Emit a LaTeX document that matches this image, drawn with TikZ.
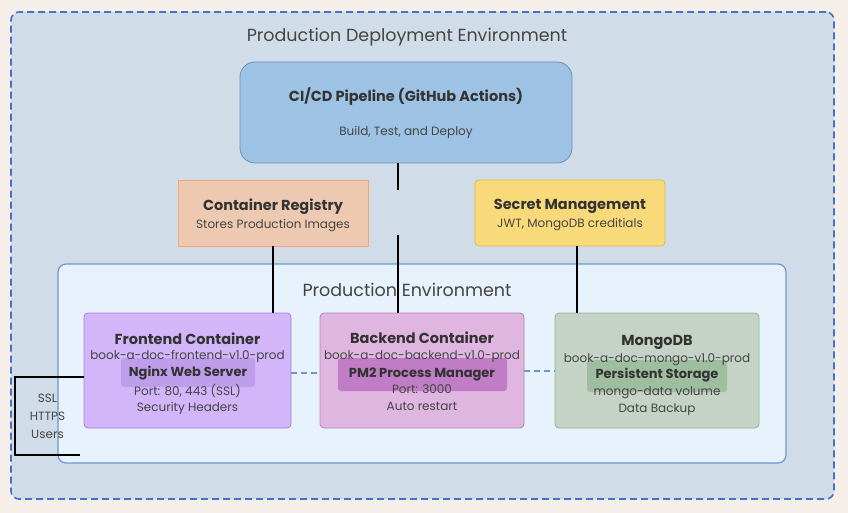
\documentclass[tikz,border=0pt]{standalone}
\usepackage{fontspec}
\setmainfont{Poppins}
\usetikzlibrary{positioning}
\definecolor{canvas}{HTML}{F5EEE9}
\definecolor{outerfill}{HTML}{D0DDE8}
\definecolor{outerline}{HTML}{4472C4}
\definecolor{prodfill}{HTML}{E8F2FC}
\definecolor{prodline}{HTML}{7096D0}
\definecolor{cifill}{HTML}{9DC2E3}
\definecolor{ciline}{HTML}{6B8FB5}
\definecolor{regfill}{HTML}{EEC9B1}
\definecolor{regline}{HTML}{F4A37A}
\definecolor{secfill}{HTML}{F9DA7A}
\definecolor{secline}{HTML}{E0B94A}
\definecolor{frontfill}{HTML}{D2B6F9}
\definecolor{frontline}{HTML}{A580DA}
\definecolor{frontinner}{HTML}{BE9DEB}
\definecolor{backfill}{HTML}{DEB6E0}
\definecolor{backline}{HTML}{B582B9}
\definecolor{backinner}{HTML}{C07CC5}
\definecolor{mongofill}{HTML}{C5D2C6}
\definecolor{mongoline}{HTML}{88BA8B}
\definecolor{mongoinner}{HTML}{9EBE9F}
\definecolor{ink}{HTML}{333333}
\definecolor{softink}{HTML}{444444}
\tikzset{
  card/.style={draw, line width=0.8pt, inner sep=0pt, rounded corners=4pt},
  hilite/.style={inner sep=0pt, rounded corners=3pt},
  zonetitle/.style={text=softink, font=\fontsize{17.5}{21}\selectfont, inner sep=0pt, yshift=-1pt},
  cardtitle/.style={text=ink, font=\fontsize{14.5}{17}\selectfont\bfseries, inner sep=0pt, yshift=-1pt},
  cardtext/.style={text=softink, font=\fontsize{12}{14}\selectfont, inner sep=0pt, yshift=-1.5pt},
  link/.style={line width=1.8pt, black},
  peer/.style={line width=2pt, prodline, dashed, dash pattern=on 6pt off 4pt}
}
\begin{document}
\begin{tikzpicture}[x=1pt,y=-1pt]
            \useasboundingbox[fill=canvas] (0,0) rectangle (848,513);
            % outer zone
            \node (deploy) [card, draw=outerline, fill=outerfill, line width=1.6pt, dashed, dash pattern=on 7pt off 4pt, rounded corners=8pt, minimum width=823pt, minimum height=487pt] at (422.5,255.5) {};
            \node (deploytitle) [zonetitle] at (407,36) {Production Deployment Environment};
            % pipeline and services
            \node (cicd) [card, draw=ciline, fill=cifill, rounded corners=15pt, minimum width=332pt, minimum height=101pt] at (406,112.5) {};
            \node (cicdtitle) [cardtitle] at (406,96) {CI/CD Pipeline (GitHub Actions)};
            \node (cicdtext) [cardtext] at (406,131) {Build, Test, and Deploy};
            \node (registry) [card, draw=regline, fill=regfill, rounded corners=0pt, minimum width=190pt, minimum height=66pt] at (273,213) {};
            \node (registrytitle) [cardtitle] at (273,206) {Container Registry};
            \node (registrytext) [cardtext] at (273,224) {Stores Production Images};
            \node (secrets) [card, draw=secline, fill=secfill, minimum width=190pt, minimum height=66pt] at (570,213) {};
            \node (secretstitle) [cardtitle] at (570,205) {Secret Management};
            \node (secretstext) [cardtext] at (570,223) {JWT, MongoDB creditials};
            % production zone
            \node (prod) [card, draw=prodline, fill=prodfill, rounded corners=8pt, line width=1.2pt, minimum width=728pt, minimum height=199pt] at (422,363.5) {};
            \node (prodtitle) [zonetitle] at (407,289) {Production Environment};
            % containers
            \node (front) [card, draw=frontline, fill=frontfill, minimum width=207pt, minimum height=115pt] at (187.5,370.5) {};
            \node (nginx) [hilite, fill=frontinner, minimum width=134pt, minimum height=29pt] at (188,372.5) {};
            \node (fronttitle) [cardtitle] at (187.5,338) {Frontend Container};
            \node (fronttext) [cardtext] at (187.5,355) {book-a-doc-frontend-v1.0-prod};
            \node (nginxtitle) [cardtitle, font=\fontsize{13}{15}\selectfont\bfseries] at (188,372) {Nginx Web Server};
            \node (frontport) [cardtext] at (187.5,390) {Port: 80, 443 (SSL)};
            \node (frontsec) [cardtext] at (187.5,407) {Security Headers};
            \node (back) [card, draw=backline, fill=backfill, minimum width=204pt, minimum height=115pt] at (422,370.5) {};
            \node (pm2) [hilite, fill=backinner, minimum width=169pt, minimum height=33pt] at (422.5,374.5) {};
            \node (backtitle) [cardtitle] at (422,337) {Backend Container};
            \node (backtext) [cardtext] at (422,355) {book-a-doc-backend-v1.0-prod};
            \node (pm2title) [cardtitle, font=\fontsize{13}{15}\selectfont\bfseries] at (422,373) {PM2 Process Manager};
            \node (backport) [cardtext] at (422,388) {Port: 3000};
            \node (backrestart) [cardtext] at (422,405) {Auto restart};
            \node (mongo) [card, draw=mongoline, fill=mongofill, minimum width=204pt, minimum height=115pt] at (657,370.5) {};
            \node (storage) [hilite, fill=mongoinner, minimum width=140pt, minimum height=32pt] at (657,376) {};
            \node (mongotitle) [cardtitle] at (657,341) {MongoDB};
            \node (mongotext) [cardtext] at (657,358) {book-a-doc-mongo-v1.0-prod};
            \node (storagetitle) [cardtitle, font=\fontsize{13}{15}\selectfont\bfseries] at (657,374) {Persistent Storage};
            \node (mongovol) [cardtext] at (657,391) {mongo-data volume};
            \node (mongobackup) [cardtext] at (657,408) {Data Backup};
            % users
            \node (users) [cardtext, yshift=1.5pt, font=\fontsize{12}{18}\selectfont, align=center, minimum width=65pt, minimum height=78pt] at (47.5,416) {SSL\\HTTPS\\Users};
            % connectors
            \coordinate (cigapa) at (398,190);
            \coordinate (cigapb) at (398,235);
            \draw[link] (cigapa |- cicd.south) -- (cigapa);
            \draw[link] (cigapb) -- (cigapb |- back.north);
            \draw[link] (registry.south) -- (registry.south |- front.north);
            \draw[link] ([xshift=7pt]secrets.south) -- ([xshift=7pt]secrets.south |- mongo.north);
            \draw[peer] (front.east |- nginx.east) -- (back.west |- nginx.east);
            \draw[peer] (back.east) -- (mongo.west);
            \draw[link] (users.north -| front.west) -- (users.north west) -- (users.south west) -- (users.south east);
        \end{tikzpicture}
\end{document}
